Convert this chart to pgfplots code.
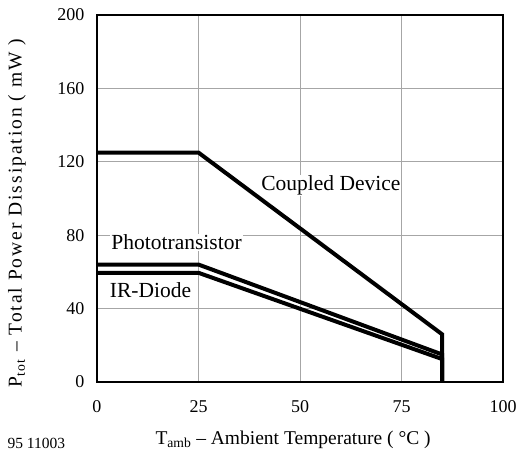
\documentclass[border=0pt]{standalone}
\usepackage{fontspec}
\setmainfont{Liberation Serif}
\newfontfamily\ylabfont[LetterSpace=10]{Liberation Serif}
\usepackage{pgfplots}
\pgfplotsset{compat=1.18}

\begin{document}
\begin{tikzpicture}
  \begin{axis}[
      scale only axis,
      width=406pt,
      height=367pt,
      xmin=0, xmax=100,
      ymin=0, ymax=200,
      xtick={0,25,50,75,100},
      ytick={0,40,80,120,160,200},
      grid=major,
      grid style={gray!70,line width=0.8pt},
      major tick length=0pt,
      axis line style={line width=2.6pt},
      /pgf/number format/assume math mode=true,
      tick label style={font=\fontsize{18}{20}\selectfont},
      x tick label style={anchor=center,yshift=-25pt},
      y tick label style={anchor=east,xshift=-9pt},
      xlabel={T\textsubscript{amb} – Ambient Temperature ( °C )},
      ylabel={\ylabfont P\textsubscript{tot} – Total Power Dissipation ( mW )},
      label style={font=\fontsize{19.5}{22}\selectfont},
      xlabel style={at={(axis description cs:0.483,0)},anchor=center,yshift=-58pt},
      ylabel style={at={(axis description cs:0,0.46)},anchor=center,yshift=80pt},
    ]

    % Coupled Device
    \addplot[black,line width=4pt,line join=miter] coordinates {
      (0,125) (25,125) (85,26) (85,0)
    };
    % Phototransistor
    \addplot[black,line width=4pt,line join=miter] coordinates {
      (0,64) (25,64) (85,15) (85,0)
    };
    % IR-Diode
    \addplot[black,line width=4pt,line join=miter] coordinates {
      (0,59.5) (25,59.5) (85,12.5) (85,0)
    };

    \node[fill=white,inner sep=1pt,font=\fontsize{21.5}{24}\selectfont] at (axis cs:57.6,107) {Coupled Device};
    \node[fill=white,inner sep=1pt,font=\fontsize{21.5}{24}\selectfont] at (axis cs:19.6,76) {Phototransistor};
    \node[fill=white,inner sep=1pt,font=\fontsize{21.5}{24}\selectfont] at (axis cs:13.2,50) {IR-Diode};
  \end{axis}
  \node[anchor=west,font=\fontsize{15.5}{18}\selectfont] at (-93pt,-61pt) {95 11003};
  \pgfresetboundingbox
  \path[use as bounding box] (-97pt,-75pt) rectangle (425pt,382pt);
\end{tikzpicture}
\end{document}
